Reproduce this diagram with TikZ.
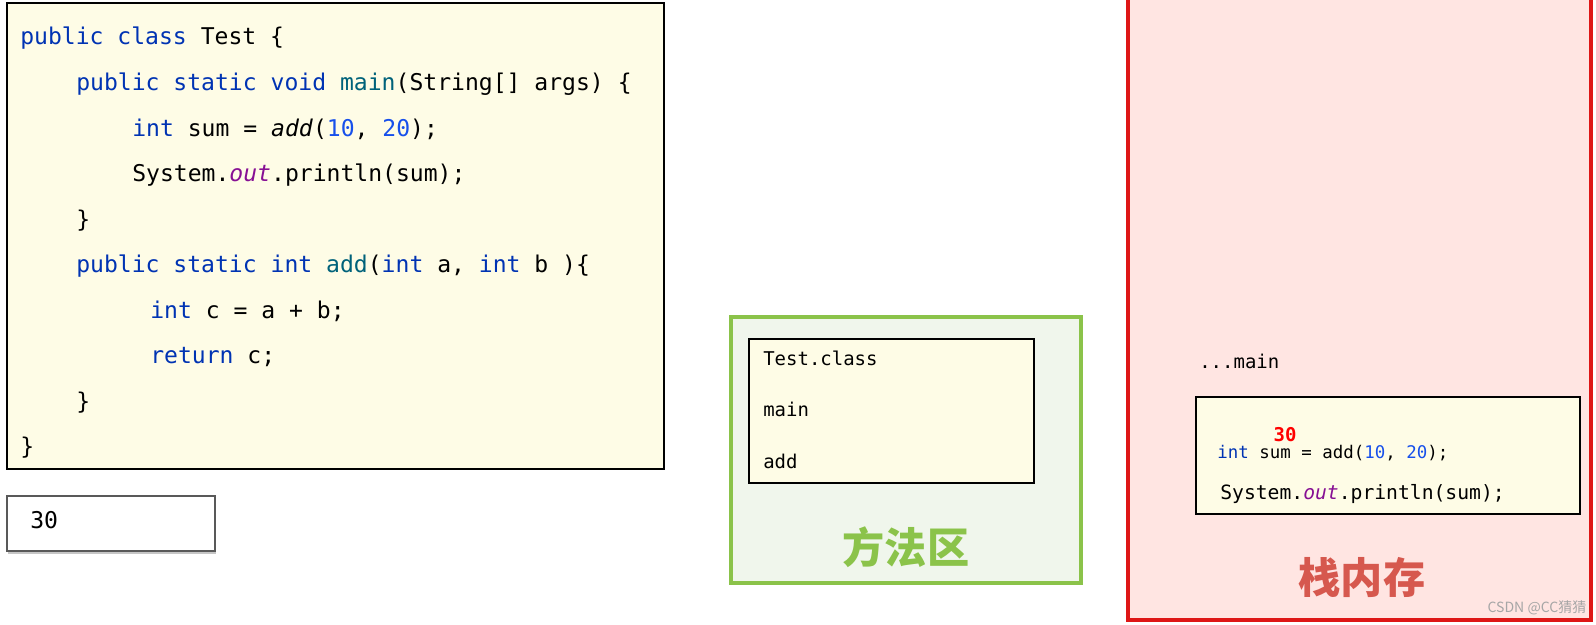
\documentclass[tikz,border=0pt]{standalone}
\usepackage{fontspec}
\setmonofont{DejaVu Sans Mono}
\newfontfamily\cjk{Noto Sans CJK SC}
\usetikzlibrary{shadows}
\definecolor{kwblue}{RGB}{0,51,179}
\definecolor{mtteal}{RGB}{0,98,122}
\definecolor{numblue}{RGB}{23,80,235}
\definecolor{fldpurple}{RGB}{135,16,148}
\definecolor{codebg}{RGB}{254,252,230}
\definecolor{methodgreen}{RGB}{139,195,74}
\definecolor{methodbg}{RGB}{240,246,236}
\definecolor{stackred}{RGB}{222,22,22}
\definecolor{stackbg}{RGB}{255,229,226}
\definecolor{stacktitle}{RGB}{214,88,78}
\newcommand{\kw}[1]{\textcolor{kwblue}{#1}}
\newcommand{\mname}[1]{\textcolor{mtteal}{#1}}
\newcommand{\lit}[1]{\textcolor{numblue}{#1}}
\newcommand{\fld}[1]{\textcolor{fldpurple}{\itshape #1}}

\begin{document}
\begin{tikzpicture}[x=0.025cm, y=-0.025cm,
    code/.style={anchor=base west, inner sep=0pt, font=\ttfamily\fontsize{16.4}{18}\selectfont},
    small/.style={anchor=base west, inner sep=0pt, font=\ttfamily\fontsize{13.5}{16}\selectfont},
    title/.style={inner sep=0pt, font=\cjk\bfseries\fontsize{30}{34}\selectfont},
]
\useasboundingbox (0,0) rectangle (1596,624);
% source code
\draw[line width=1.4pt, fill=codebg] (7,3) rectangle (664,469);
\node[code] (l1) at (20,45) {\kw{public class} Test \{};
\node[code] (l2) at (76,90.5) {\kw{public static void} \mname{main}(String[] args) \{};
\node[code] (l3) at (132,136) {\kw{int} sum = \textit{add}(\lit{10}, \lit{20});};
\node[code] (l4) at (132,181.5) {System.\fld{out}.println(sum);};
\node[code] (l5) at (76,227) {\}};
\node[code] (l6) at (76,272.5) {\kw{public static int} \mname{add}(\kw{int} a, \kw{int} b )\{};
\node[code] (l7) at (150,318) {\kw{int} c = a + b;};
\node[code] (l8) at (150,363.5) {\kw{return} c;};
\node[code] (l9) at (76,409) {\}};
\node[code] (l10) at (20,454.5) {\}};
% console output
\draw[gray!70!black, line width=0.8pt, fill=white,
      drop shadow={opacity=0.45, shadow xshift=1pt, shadow yshift=-2pt}] (7,496) rectangle (215,551);
\node[code] (out) at (30,528) {30};
% method area
\draw[methodgreen, line width=2.8pt, fill=methodbg] (731,317) rectangle (1081,583);
\draw[line width=1.2pt, fill=codebg] (749,339) rectangle (1034,483);
\node[small] (cls) at (763,365) {Test.class};
\node[small] (mmain) at (763,416) {main};
\node[small] (madd) at (763,468) {add};
\node[title, text=methodgreen] (mtitle) at (906,547) {方法区};
% stack memory
\draw[stackred, line width=3pt, fill=stackbg] (1128,-10) rectangle (1591,620);
\node[small] (frame) at (1199,368) {...main};
\draw[line width=1.2pt, fill=codebg] (1196,397) rectangle (1580,514);
\node[inner sep=0pt, text=red, font=\ttfamily\bfseries\fontsize{13.5}{16}\selectfont] (res) at (1285,435) {30};
\node[small, font=\ttfamily\fontsize{12.4}{15}\selectfont] (s1) at (1217,458) {\kw{int} sum = add(\lit{10}, \lit{20});};
\node[small, font=\ttfamily\fontsize{14}{16}\selectfont] (s2) at (1220,499) {System.\fld{out}.println(sum);};
\node[title, text=stacktitle] (stitle) at (1362,577) {栈内存};
\node[inner sep=0pt, text=gray!70, font=\cjk\fontsize{10}{12}\selectfont] (mark) at (1537,608) {CSDN @CC猜猜};
\end{tikzpicture}
\end{document}
